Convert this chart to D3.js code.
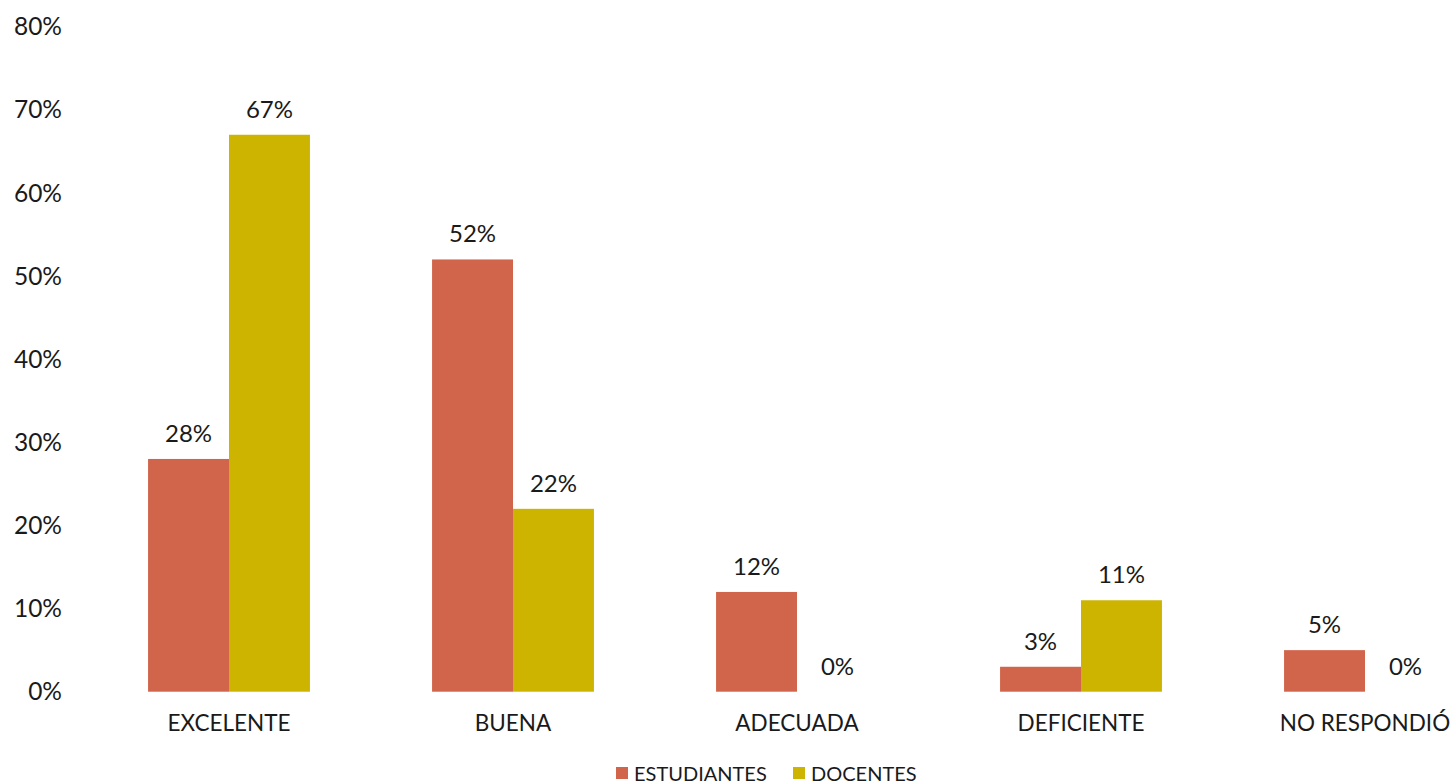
<!DOCTYPE html>
<html><head><meta charset="utf-8">
<script src="https://cdn.jsdelivr.net/npm/d3@7/dist/d3.min.js"></script>
<style>body{margin:0;background:#fff}svg{display:block}text{font-family:"Lato","DejaVu Sans",sans-serif;fill:#1a1a1a}</style>
</head><body><svg id="c" width="1455" height="784"></svg>
<script>
const categories = ["EXCELENTE","BUENA","ADECUADA","DEFICIENTE","NO RESPONDIÓ"];
const seriesNames = ["ESTUDIANTES","DOCENTES"];
const estudiantes = [28,52,12,3,5];
const docentes = [67,22,0,11,0];
const yTicks = [0,10,20,30,40,50,60,70,80];
const colors = ["#D1654B","#CCB400"];

const svg = d3.select("#c");
const x = d3.scaleBand().domain(categories).range([87,1507]).paddingInner(0.43).paddingOuter(0.215);
const xs = d3.scaleBand().domain(seriesNames).range([0,x.bandwidth()]);
const y = d3.scaleLinear().domain([0,80]).range([691.7,26.7]);

const yAxis = svg.append("g").attr("transform","translate(62,0)")
  .call(d3.axisLeft(y).tickValues(yTicks).tickFormat(d=>d+"%").tickSize(0).tickPadding(0));
yAxis.select(".domain").remove();
yAxis.selectAll("text").style("font-size","24.5px").attr("fill","#1a1a1a").attr("dy","0.33em");

const xAxis = svg.append("g").attr("transform","translate(0,691.7)")
  .call(d3.axisBottom(x).tickSize(0).tickPadding(0));
xAxis.select(".domain").remove();
xAxis.selectAll("text").style("font-size","22.5px").attr("fill","#1a1a1a").attr("dy","0").attr("y",39);

const data = [estudiantes, docentes];
data.forEach((vals,si)=>{
  const g = svg.append("g");
  g.selectAll("rect").data(vals).join("rect")
    .attr("x",(d,i)=>x(categories[i])+xs(seriesNames[si]))
    .attr("y",d=>y(d)).attr("width",xs.bandwidth()).attr("height",d=>y(0)-y(d))
    .attr("fill",colors[si]);
  g.selectAll("text").data(vals).join("text")
    .attr("x",(d,i)=>x(categories[i])+xs(seriesNames[si])+xs.bandwidth()/2)
    .attr("y",d=>y(d)-17).attr("text-anchor","middle").style("font-size","24px")
    .text(d=>d+"%");
});

const leg = svg.append("g");
const legX = [616,793];
seriesNames.forEach((n,i)=>{
  leg.append("rect").attr("x",legX[i]).attr("y",767).attr("width",12).attr("height",12).attr("fill",colors[i]);
  leg.append("text").attr("x",legX[i]+18).attr("y",781).style("font-size","20px").text(n);
});
</script></body></html>
